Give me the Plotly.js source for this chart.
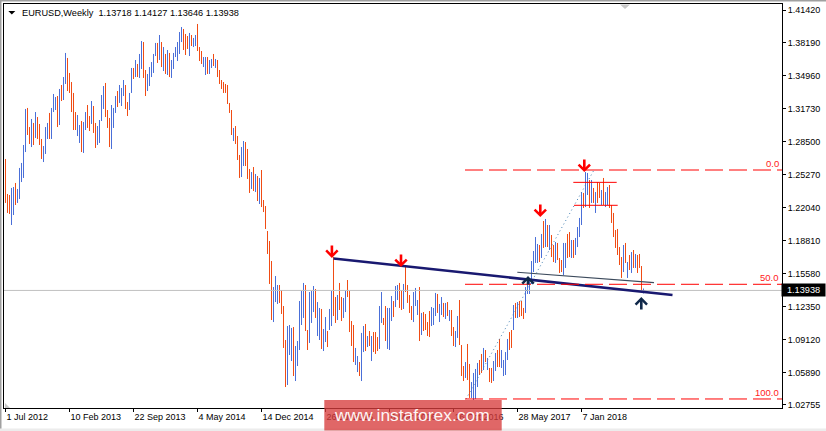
<!DOCTYPE html>
<html><head><meta charset="utf-8">
<script src="https://cdn.plot.ly/plotly-3.0.1.min.js"></script>
<style>html,body{margin:0;padding:0;background:#fff;overflow:hidden}#c{width:826px;height:431px}</style>
</head><body><div id="c"></div>
<script>
const symbolTitle = "EURUSD,Weekly  1.13718 1.14127 1.13646 1.13938";
const xTickIndex = [0,32,64,96,128,160,192,224,256,288];
const xTickLabels = ["1 Jul 2012","10 Feb 2013","22 Sep 2013","4 May 2014","14 Dec 2014","26 Jul 2015","6 Mar 2016","16 Oct 2016","28 May 2017","7 Jan 2018"];
const yTickValues = [1.41420,1.38190,1.34960,1.31730,1.28500,1.25270,1.22040,1.18810,1.15580,1.12350,1.09120,1.05890,1.02755];
const lastPrice = 1.13938;
const barDirection = [
"ddduuduuuu","uddududddu","uuduuududu","uddddduudu","uddudduuuu",
"ddduuuduuu","dduududuud","duuuuududu","duduuuuuud","dduduudddu",
"uduududddd","ddddudddUu","dddudududd","dddduuuddd","duuuduuuuu",
"dduuuduudu","uduudduddu","uddddUuduu","dududdduud","duuuduuddu",
"dddduuudud","ddduuuduud","ududduuddd","udduuuuddu","dudduudduu",
"uuddududdd","uuuuuuudud","ududdudddu","uddudUuuud","uudududdud",
"uudddddddu","dudududddu"].join("").toLowerCase();
const barHigh = [
1.2682,1.2339,1.2329,1.2398,1.2407,1.2447,1.2388,1.2594,1.2643,1.2819,
1.3172,1.3182,1.2995,1.3074,1.3035,1.3142,1.3093,1.3025,1.2878,1.2809,
1.2995,1.3035,1.3133,1.3182,1.3319,1.3289,1.3299,1.3368,1.3407,1.3485,
1.3721,1.3672,1.3525,1.3436,1.3329,1.3142,1.3113,1.3015,1.3054,1.3044,
1.3142,1.3211,1.3103,1.3250,1.3201,1.3035,1.3005,1.3064,1.3309,1.3397,
1.3427,1.3162,1.3084,1.3211,1.3182,1.3299,1.3348,1.3407,1.3378,1.3456,
1.3407,1.3240,1.3329,1.3574,1.3574,1.3652,1.3613,1.3711,1.3838,1.3828,
1.3554,1.3515,1.3583,1.3632,1.3711,1.3819,1.3819,1.3897,1.3828,1.3779,
1.3711,1.3750,1.3721,1.3652,1.3721,1.3779,1.3828,1.3926,1.3975,1.3956,
1.3907,1.3887,1.3917,1.3897,1.3868,1.3897,1.4005,1.3779,1.3740,1.3681,
1.3681,1.3681,1.3652,1.3662,1.3711,1.3662,1.3652,1.3554,1.3456,1.3436,
1.3417,1.3407,1.3231,1.3162,1.2986,1.3005,1.2907,1.2721,1.2799,1.2858,
1.2848,1.2780,1.2584,1.2554,1.2603,1.2535,1.2515,1.2496,1.2574,1.2280,
1.2221,1.1976,1.1878,1.1682,1.1427,1.1535,1.1447,1.1447,1.1398,1.1241,
1.0908,1.1045,1.1055,1.1026,1.1035,1.0849,1.0898,1.1290,1.1388,1.1467,
1.1447,1.1006,1.1378,1.1388,1.1437,1.1408,1.1280,1.1222,1.1212,1.1016,
1.1133,1.0996,1.1212,1.1388,1.1721,1.1329,1.1349,1.1467,1.1329,1.1320,
1.1388,1.1496,1.1388,1.1094,1.1055,1.0830,1.0751,1.0692,1.0977,1.1045,
1.1065,1.0947,1.0996,1.0947,1.0986,1.0986,1.0937,1.1241,1.1378,1.1124,
1.1241,1.1222,1.1222,1.1339,1.1290,1.1437,1.1447,1.1467,1.1398,1.1457,
1.1643,1.1447,1.1349,1.1241,1.1378,1.1418,1.1300,1.1427,1.1173,1.1182,
1.1163,1.1084,1.1192,1.1231,1.1222,1.1369,1.1359,1.1261,1.1329,1.1271,
1.1271,1.1280,1.1202,1.1202,1.1035,1.0996,1.1143,1.1300,1.0859,1.0653,
1.0692,1.0869,1.0673,1.0496,1.0585,1.0624,1.0683,1.0712,1.0771,1.0830,
1.0810,1.0732,1.0634,1.0634,1.0702,1.0781,1.0810,1.0918,1.0810,1.0712,
1.0790,1.0918,1.0986,1.1006,1.1251,1.1271,1.1280,1.1290,1.1290,1.1222,
1.1427,1.1525,1.1496,1.1682,1.1780,1.1917,1.1849,1.1839,1.1947,1.2074,
1.2094,1.2035,1.2035,1.1937,1.1839,1.1868,1.1859,1.1712,1.1692,1.1859,
1.1859,1.1947,1.1966,1.1888,1.1888,1.1908,1.2015,1.2104,1.2358,1.2349,
1.2554,1.2545,1.2476,1.2476,1.2398,1.2358,1.2456,1.2447,1.2378,1.2496,
1.2358,1.2407,1.2427,1.2231,1.2153,1.1986,1.1996,1.1819,1.1721,1.1839,
1.1859,1.1672,1.1741,1.1770,1.1790,1.1751,1.1741,1.1751,1.1633,1.14127];
const barLow = [
1.2251,1.2153,1.2143,1.2035,1.2133,1.2231,1.2251,1.2290,1.2456,1.2496,
1.2750,1.2917,1.2829,1.2799,1.2819,1.2888,1.2878,1.2819,1.2682,1.2652,
1.2731,1.2878,1.2878,1.2878,1.3142,1.3162,1.2995,1.3015,1.3250,1.3260,
1.3417,1.3348,1.3329,1.3142,1.2966,1.2966,1.2907,1.2839,1.2750,1.2741,
1.2966,1.2986,1.2956,1.3025,1.2937,1.2790,1.2819,1.2839,1.3054,1.3172,
1.3093,1.2986,1.2799,1.2780,1.2986,1.3133,1.3191,1.3231,1.3201,1.3299,
1.3172,1.3103,1.3162,1.3329,1.3466,1.3485,1.3485,1.3476,1.3564,1.3476,
1.3299,1.3348,1.3397,1.3485,1.3525,1.3691,1.3623,1.3652,1.3583,1.3544,
1.3515,1.3505,1.3485,1.3476,1.3564,1.3681,1.3642,1.3711,1.3828,1.3750,
1.3701,1.3760,1.3691,1.3789,1.3779,1.3789,1.3740,1.3642,1.3613,1.3583,
1.3505,1.3515,1.3515,1.3574,1.3593,1.3574,1.3485,1.3417,1.3368,1.3329,
1.3329,1.3221,1.3133,1.2917,1.2858,1.2829,1.2672,1.2496,1.2505,1.2613,
1.2613,1.2486,1.2349,1.2388,1.2368,1.2358,1.2270,1.2241,1.2211,1.2162,
1.1996,1.1751,1.1457,1.1104,1.1084,1.1280,1.1261,1.1271,1.1163,1.0830,
1.0447,1.0467,1.0761,1.0702,1.0555,1.0506,1.0653,1.0810,1.1055,1.1124,
1.0996,1.0810,1.0879,1.1075,1.1182,1.1124,1.0947,1.0908,1.0820,1.0800,
1.0888,1.0839,1.1006,1.1045,1.1143,1.1075,1.1104,1.1202,1.1094,1.1124,
1.1182,1.1329,1.0986,1.0849,1.0692,1.0663,1.0594,1.0555,1.0506,1.0790,
1.0800,1.0839,1.0849,1.0702,1.0790,1.0771,1.0800,1.0820,1.1075,1.1055,
1.0898,1.0820,1.0810,1.1094,1.1133,1.1231,1.1300,1.1222,1.1202,1.1212,
1.1378,1.1271,1.1173,1.1104,1.1084,1.1241,1.1153,1.0898,1.0957,1.0996,
1.1006,1.0947,1.0937,1.1045,1.1055,1.1143,1.1173,1.1084,1.1153,1.1133,
1.1114,1.1143,1.1094,1.0947,1.0849,1.0839,1.0928,1.0859,1.0555,1.0506,
1.0536,1.0516,1.0340,1.0340,1.0320,1.0330,1.0447,1.0565,1.0585,1.0614,
1.0692,1.0614,1.0496,1.0487,1.0506,1.0604,1.0643,1.0643,1.0634,1.0555,
1.0565,1.0712,1.0810,1.0830,1.1006,1.1124,1.1124,1.1133,1.1143,1.1114,
1.1173,1.1359,1.1359,1.1457,1.1574,1.1663,1.1663,1.1672,1.1712,1.1810,
1.1819,1.1819,1.1790,1.1721,1.1672,1.1663,1.1692,1.1565,1.1574,1.1545,
1.1614,1.1712,1.1721,1.1712,1.1712,1.1741,1.1819,1.1917,1.2035,1.2202,
1.2211,1.2329,1.2202,1.2251,1.2251,1.2153,1.2251,1.2300,1.2231,1.2231,
1.2211,1.2231,1.2202,1.2055,1.1917,1.1810,1.1741,1.1643,1.1516,1.1574,
1.1663,1.1516,1.1594,1.1565,1.1614,1.1614,1.1565,1.1614,1.1378,1.13646];
const fibStartIndex = 229.75, axisEndIndex = 388.25;
const fibLevels = [1.2574,1.1454,1.0330];
const fibLabels = ["0.0","50.0","100.0"];
const trendX = [164,333.5], trendY = [1.1707,1.1349];
const necklineX = [255.9,324.25], necklineY = [1.1572,1.1470];
const headTopX = [283.9,305.6], headTopY = 1.2453;
const headLowX = [284.25,306.1], headLowY = 1.2228;
const diagX = [230.25,294.25], diagY = [1.0330,1.2574];
const downArrowX = [163.2,197.75,267.4,289.4], downArrowY = [1.1712,1.1623,1.2113,1.2554];
const upArrowX = [261.25,317.9], upArrowY = [1.1535,1.1329];
const rangeX = [-0.75,388.25], rangeY = [1.02416,1.42008];

const idx = barHigh.map((_,i)=>i);
const opens = idx.map(i=> barDirection[i]==='u' ? barLow[i] : barHigh[i]);
const closes = idx.map(i=> barDirection[i]==='u' ? barHigh[i] : barLow[i]);

const W=826,H=431,L=4,T=4,PW=778,PH=404;
const px=x=>(x-L)/PW, py=y=>(T+PH-y)/PH;
const rect=(x0,y0,x1,y1,c,layer)=>({type:'rect',xref:'paper',yref:'paper',x0:px(x0),x1:px(x1),y0:py(y0),y1:py(y1),fillcolor:c,line:{width:0},layer:layer||'above'});
const tri=(pts,c)=>({type:'path',xref:'paper',yref:'paper',path:'M '+pts.map(p=>px(p[0])+','+py(p[1])).join(' L ')+' Z',fillcolor:c,line:{width:0},layer:'above'});

const line=(x,y,color,width,dash)=>({x,y,type:'scatter',mode:'lines',hoverinfo:'skip',showlegend:false,line:{color,width,dash:dash||'solid'}});
const traces=[
 line([rangeX[0],rangeX[1]],[lastPrice,lastPrice],'#c0c0c0',1),
 {type:'ohlc',x:idx,open:opens,high:barHigh,low:barLow,close:closes,tickwidth:0,showlegend:false,hoverinfo:'skip',
  increasing:{line:{color:'#4a6fd8',width:1}},decreasing:{line:{color:'#f04c14',width:1}}},
 line(diagX,diagY,'#4682b4',1,'1px,3px'),
 line(trendX,trendY,'#191970',2.7),
 line(necklineX,necklineY,'#3c4a5c',1.2),
 line(headTopX,[headTopY,headTopY],'#ff0000',1),
 line(headLowX,[headLowY,headLowY],'#ff0000',1),
 ...fibLevels.map(v=>line([fibStartIndex,axisEndIndex],[v,v],'#ff0000',1,'18px,6px'))
];
const arrow=(x,y,ax,ay,color)=>({x,y,xref:'x',yref:'y',text:'',showarrow:true,ax,ay,axref:'pixel',ayref:'pixel',arrowhead:4,arrowsize:0.85,arrowwidth:2.6,arrowcolor:color});
const fontName='"Liberation Sans", Arial, sans-serif';
const annotations=[
 {xref:'paper',yref:'paper',x:px(20),y:py(12.5),xanchor:'left',yanchor:'middle',text:symbolTitle.replace(/  /g,'&nbsp;&nbsp;'),showarrow:false,font:{family:fontName,size:9.2,color:'#000'}},
 ...fibLevels.map((v,i)=>({x:rangeX[1],y:v,xref:'x',yref:'y',xanchor:'right',yanchor:'bottom',xshift:-1,yshift:-1,text:fibLabels[i],showarrow:false,font:{family:fontName,size:9.5,color:'#ff2020'}})),
 ...downArrowX.map((x,i)=>arrow(x,downArrowY[i],0,-14,'#ff0000')),
 ...upArrowX.map((x,i)=>arrow(x,upArrowY[i],0,i?14:10,'#10284a')),
 {xref:'paper',yref:'y',x:px(803.5),y:lastPrice,xanchor:'center',yanchor:'middle',text:lastPrice.toFixed(5),showarrow:false,bgcolor:'#000',font:{family:fontName,size:9.2,color:'#fff'},borderpad:1,width:41,height:9.5},
 {xref:'paper',yref:'paper',x:px(412),y:py(415.5),xanchor:'center',yanchor:'middle',text:'www.instaforex.com',showarrow:false,font:{family:fontName,size:17.4,color:'rgba(255,255,255,0.95)'}}
];
const shapes=[
 rect(0,0,826,1.5,'#a0a0a0'),
 rect(0,0,1.5,431,'#a0a0a0'),
 rect(0,428.5,826,431,'#ececec'),
 tri([[5,403],[5,408],[10,408]],'#c8c8c8'),
 tri([[620,4.5],[630,4.5],[625,9]],'#c8c8c8'),
 tri([[8.3,11],[15.3,11],[11.8,14.5]],'#000'),
 rect(324.3,400,501.7,430.5,'rgba(215,60,60,0.78)')
];
const layout={
 width:W,height:H,margin:{l:L,r:W-L-PW,t:T,b:H-T-PH,pad:0},
 paper_bgcolor:'#fff',plot_bgcolor:'#fff',showlegend:false,dragmode:false,hovermode:false,
 xaxis:{range:rangeX,type:'linear',tickmode:'array',tickvals:xTickIndex,ticktext:xTickLabels,ticks:'outside',ticklen:3,tickwidth:1,tickcolor:'#000',
  ticklabelposition:'outside right',showgrid:false,zeroline:false,showline:true,linecolor:'#000',linewidth:1,mirror:true,rangeslider:{visible:false},
  tickangle:0,automargin:false,tickfont:{family:fontName,size:9,color:'#000'}},
 yaxis:{range:rangeY,side:'right',tickmode:'array',tickvals:yTickValues,tickformat:'.5f',ticks:'outside',ticklen:3,tickwidth:1,tickcolor:'#000',
  showgrid:false,zeroline:false,showline:true,linecolor:'#000',linewidth:1,mirror:true,automargin:false,tickfont:{family:fontName,size:9,color:'#000'}},
 shapes,annotations
};
Plotly.newPlot('c',traces,layout,{displayModeBar:false,staticPlot:true});
</script></body></html>
